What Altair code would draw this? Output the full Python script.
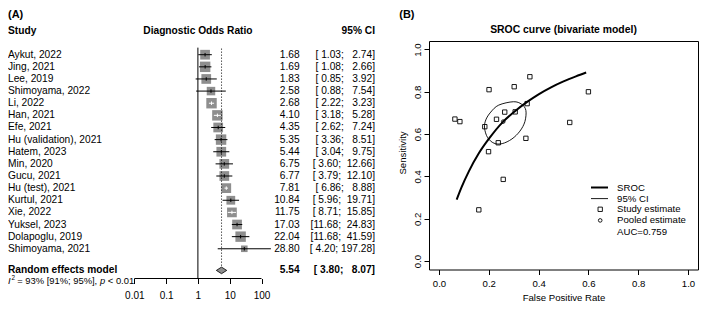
import altair as alt
import numpy as np
import pandas as pd

FONT = "Liberation Sans"
GRAY = "#8e8e8e"

# ---------------- (A) forest plot data ----------------
studies = ["Aykut, 2022", "Jing, 2021", "Lee, 2019", "Shimoyama, 2022", "Li, 2022",
           "Han, 2021", "Efe, 2021", "Hu (validation), 2021", "Hatem, 2023", "Min, 2020",
           "Gucu, 2021", "Hu (test), 2021", "Kurtul, 2021", "Xie, 2022", "Yuksel, 2023",
           "Dolapoglu, 2019", "Shimoyama, 2021"]
dor = [1.68, 1.69, 1.83, 2.58, 2.68, 4.10, 4.35, 5.35, 5.44, 6.75, 6.77, 7.81,
       10.84, 11.75, 17.03, 22.04, 28.80]
dor_lower = [1.03, 1.08, 0.85, 0.88, 2.22, 3.18, 2.62, 3.36, 3.04, 3.60, 3.79, 6.86,
             5.96, 8.71, 11.68, 11.68, 4.20]
dor_upper = [2.74, 2.66, 3.92, 7.54, 3.23, 5.28, 7.24, 8.51, 9.75, 12.66, 12.10, 8.88,
             19.71, 15.85, 24.83, 41.59, 197.28]
weights = [5.9, 6.8, 5.9, 4.5, 6.8, 6.8, 5.9, 6.8, 5.9, 5.9, 5.9, 5.9, 4.8, 5.9, 5.9, 6.8, 2.7]
pooled_label = "Random effects model"
pooled_dor, pooled_lower, pooled_upper = 5.54, 3.80, 8.07
het_i2, het_lo, het_hi, het_p = "93%", "91%", "95%", "0.01"
forest_ticks = [0.01, 0.1, 1, 10, 100]
forest_tick_labels = ["0.01", "0.1", "1", "10", "100"]
forest_headers = ["Study", "Diagnostic Odds Ratio", "95% CI"]
null_effect = 1.0
panel_tags = ["(A)", "(B)"]

# ---------------- (B) SROC data ----------------
study_fpr = [0.365, 0.302, 0.201, 0.354, 0.264, 0.306, 0.231, 0.184, 0.525, 0.349,
             0.238, 0.199, 0.600, 0.258, 0.160, 0.064, 0.084]
study_sens = [0.871, 0.824, 0.810, 0.744, 0.704, 0.705, 0.670, 0.635, 0.655, 0.580,
              0.559, 0.517, 0.800, 0.386, 0.242, 0.671, 0.659]
pooled_fpr, pooled_sens = 0.258, 0.659
sroc_fpr = [0.071, 0.09, 0.12, 0.16, 0.20, 0.258, 0.30, 0.354, 0.40, 0.45, 0.50, 0.55, 0.591]
sroc_sens = [0.290, 0.347, 0.424, 0.509, 0.577, 0.659, 0.703, 0.752, 0.788, 0.821, 0.849, 0.873, 0.891]
ell_fpr = [0.299, 0.332, 0.349, 0.345, 0.325, 0.293, 0.254, 0.221, 0.195, 0.183, 0.188, 0.208, 0.240]
ell_sens = [0.753, 0.741, 0.712, 0.659, 0.614, 0.577, 0.555, 0.557, 0.584, 0.629, 0.667, 0.704, 0.737]
auc = 0.759
sroc_ticks = [0.0, 0.2, 0.4, 0.6, 0.8, 1.0]
sroc_title = "SROC curve (bivariate model)"
legend_labels = ["SROC", "95% CI", "Study estimate", "Pooled estimate", f"AUC={auc}"]
x_title_b = "False Positive Rate"
y_title_b = "Sensitivity"

NB = "\u00a0"


def label(text, x, y, size=10.2, weight="normal", align="left", style="normal", angle=0):
    return alt.Chart(pd.DataFrame({"t": [text]})).mark_text(
        align=align, baseline="middle", font=FONT, fontSize=size, fontWeight=weight,
        fontStyle=style, color="black", angle=angle
    ).encode(x=alt.value(x), y=alt.value(y), text="t:N")


# ---------------- shared layout ----------------
H = 228.5                     # plot height of both panels (SROC box height)
Y_TAG = -25.6

# ---------------- panel A layout ----------------
WA = 415
PX_LO, PX_HI = 126.3, 253.5          # pixel x of 0.01 and 100
DEC = (PX_HI - PX_LO) / 4.0
xsA = alt.Scale(type="log", nice=False,
                domain=[10 ** (-2 - PX_LO / DEC), 10 ** (2 + (WA - PX_HI) / DEC)])
ROW0, ROWH = 13.7, 12.13
Y_HEAD, Y_POOL, Y_HET = -10.2, 229.4, 240.2
AXIS_OFF = 9
AXIS_Y = H + AXIS_OFF
EST_X, CI_X = 291.7, 367
FS = 10.2
SIZE_PER_W = 16.0
DIA_H = 3.3

n = len(studies)
fmt = lambda v: f"{v:.2f}"
lw = max(len(fmt(v)) for v in dor_lower + [pooled_lower])
uw = max(len(fmt(v)) for v in dor_upper + [pooled_upper])
ci_text = lambda lo, hi: "[" + fmt(lo).rjust(lw, NB) + ";" + NB + fmt(hi).rjust(uw, NB) + "]"

sq_px = np.sqrt(np.array(weights) * SIZE_PER_W)
ci_px = np.log10(np.array(dor_upper) / np.array(dor_lower)) * DEC
fd = pd.DataFrame({
    "study": studies, "dor": dor, "lo": dor_lower, "hi": dor_upper, "weight": weights,
    "ypos": [ROW0 + ROWH * i for i in range(n)],
    "est": [fmt(v) for v in dor],
    "ci": [ci_text(l, h) for l, h in zip(dor_lower, dor_upper)],
    "lc": np.where(ci_px < sq_px, "white", "black"),
})

lab_expr = " : ".join(f"datum.value == {v} ? '{t}'" for v, t in zip(forest_ticks, forest_tick_labels)) + " : ''"
xA_axis = alt.Axis(values=forest_ticks, labelExpr=lab_expr, grid=False, domain=False,
                   tickSize=5, tickColor="black", offset=AXIS_OFF, labelPadding=7.4,
                   labelFontSize=10, labelColor="black", labelFont=FONT, labelFlush=False,
                   labelOverlap=False, title=None)


def XA(field):
    return alt.X(field, scale=xsA, axis=xA_axis)


yA = alt.Y("ypos:Q", scale=None, axis=None)
baseA = alt.Chart(fd)

squares = baseA.mark_square(color=GRAY, opacity=1).encode(
    x=XA("dor:Q"), y=yA,
    size=alt.Size("weight:Q", scale=alt.Scale(domain=[0, 10], range=[0, 10 * SIZE_PER_W]), legend=None))
ci_lines = baseA.mark_rule(strokeWidth=1).encode(
    x=XA("lo:Q"), x2="hi:Q", y=yA, color=alt.Color("lc:N", scale=None))
centers = baseA.mark_point(shape="M0,-1L0,1", size=12, filled=False, strokeWidth=1, opacity=1).encode(
    x=XA("dor:Q"), y=yA, color=alt.Color("lc:N", scale=None))
names = baseA.mark_text(align="left", baseline="middle", font=FONT, fontSize=FS, color="black").encode(
    x=alt.value(0), y=yA, text="study:N")
ests = baseA.mark_text(align="right", baseline="middle", font=FONT, fontSize=FS, color="black").encode(
    x=alt.value(EST_X), y=yA, text="est:N")
cis = baseA.mark_text(align="right", baseline="middle", font=FONT, fontSize=FS, color="black").encode(
    x=alt.value(CI_X), y=yA, text="ci:N")

vline = alt.Chart(pd.DataFrame({"v": [null_effect]})).mark_rule(color="black", strokeWidth=1).encode(
    x=XA("v:Q"), y=alt.value(ROW0 - ROWH / 2 - 1), y2=alt.value(AXIS_Y))
dline = alt.Chart(pd.DataFrame({"v": [pooled_dor]})).mark_rule(
    color="black", strokeWidth=1, strokeDash=[1, 2]).encode(
    x=XA("v:Q"), y=alt.value(ROW0 - ROWH / 2), y2=alt.value(Y_POOL - DIA_H))
aline = alt.Chart(pd.DataFrame({"a": [min(forest_ticks)], "b": [max(forest_ticks)]})).mark_rule(
    color="black", strokeWidth=1).encode(
    x=XA("a:Q"), x2="b:Q", y=alt.value(AXIS_Y))

dd = pd.DataFrame({"x": [pooled_lower, pooled_dor, pooled_upper],
                   "yt": [Y_POOL, Y_POOL - DIA_H, Y_POOL],
                   "yb": [Y_POOL, Y_POOL + DIA_H, Y_POOL]})
diamond = alt.Chart(dd).mark_area(fill=GRAY, stroke="black", strokeWidth=0.8, opacity=1,
                                  orient="vertical").encode(
    x=XA("x:Q"), y=alt.Y("yt:Q", scale=None, axis=None), y2="yb:Q")

x_one = PX_LO + 2 * DEC
HS = 9.4
layersA = [
    squares, vline, dline, aline, ci_lines, centers, diamond, names, ests, cis,
    label(panel_tags[0], 0, Y_TAG, size=11, weight="bold"),
    label(forest_headers[0], 0, Y_HEAD, weight="bold"),
    label(forest_headers[1], x_one, Y_HEAD, weight="bold", align="center"),
    label(forest_headers[2], CI_X, Y_HEAD, weight="bold", align="right"),
    label(pooled_label, 0, Y_POOL, weight="bold"),
    label(fmt(pooled_dor), EST_X, Y_POOL, weight="bold", align="right"),
    label(ci_text(pooled_lower, pooled_upper), CI_X, Y_POOL, weight="bold", align="right"),
    label("I", 0, Y_HET, size=HS, style="italic"),
    label("2", 3.4, Y_HET - 3.0, size=6.3),
    label(f"= {het_i2} [{het_lo}; {het_hi}],", 9.2, Y_HET, size=HS),
    label("p", 92.0, Y_HET, size=HS, style="italic"),
    label(f"< {het_p}", 99.8, Y_HET, size=HS),
]
panelA = alt.layer(*layersA).properties(width=WA, height=H)

# ---------------- panel B ----------------
WB = 269
XDOM = [-0.04, 1.04]
YDOM = [-0.04, 1.04]
xsB = alt.Scale(domain=XDOM, nice=False, zero=False)
ysB = alt.Scale(domain=YDOM, nice=False, zero=False)
FSB = 9.6

xB_axis = alt.Axis(values=sroc_ticks, format=".1f", grid=False, domain=False, tickSize=5,
                   tickColor="black", labelPadding=3.5, labelFontSize=FSB, labelFlush=False,
                   labelOverlap=False, title=x_title_b, titleFontSize=FSB,
                   titleFontWeight="normal", titlePadding=4.4)
yB_axis = alt.Axis(values=sroc_ticks, format=".1f", grid=False, domain=False, tickSize=5,
                   tickColor="black", labelAngle=270, labelAlign="center", labelBaseline="bottom",
                   labelPadding=1.5, labelFontSize=FSB, labelFlush=False, labelOverlap=False,
                   title=None)


def XB(field):
    return alt.X(field, scale=xsB, axis=xB_axis)


def YB(field):
    return alt.Y(field, scale=ysB, axis=yB_axis)


pts = alt.Chart(pd.DataFrame({"fpr": study_fpr, "sens": study_sens})).mark_point(
    shape="square", size=19, filled=False, color="black", strokeWidth=0.9, opacity=1).encode(
    x=XB("fpr:Q"), y=YB("sens:Q"))
curve = alt.Chart(pd.DataFrame({"fpr": sroc_fpr, "sens": sroc_sens, "i": list(range(len(sroc_fpr)))})).mark_line(
    color="black", strokeWidth=2, interpolate="monotone").encode(
    x=XB("fpr:Q"), y=YB("sens:Q"), order="i:Q")
ell = alt.Chart(pd.DataFrame({"fpr": ell_fpr, "sens": ell_sens, "i": list(range(len(ell_fpr)))})).mark_line(
    color="black", strokeWidth=0.9, interpolate="cardinal-closed").encode(
    x=XB("fpr:Q"), y=YB("sens:Q"), order="i:Q")
pool = alt.Chart(pd.DataFrame({"fpr": [pooled_fpr], "sens": [pooled_sens]})).mark_point(
    shape="circle", size=13, filled=False, color="black", strokeWidth=0.9, opacity=1).encode(
    x=XB("fpr:Q"), y=YB("sens:Q"))

one = pd.DataFrame({"k": [0]})
LX0, LX1, LSYM, LTXT = 162.0, 179.0, 171.2, 188.1
LY = [146.5, 157.6, 168.3, 179.4, 190.7]
leg = [
    alt.Chart(one).mark_rule(color="black", strokeWidth=2).encode(
        x=alt.value(LX0), x2=alt.value(LX1), y=alt.value(LY[0])),
    alt.Chart(one).mark_rule(color="black", strokeWidth=0.9).encode(
        x=alt.value(LX0), x2=alt.value(LX1), y=alt.value(LY[1])),
    alt.Chart(one).mark_point(shape="square", size=19, filled=False, color="black",
                              strokeWidth=0.9, opacity=1).encode(x=alt.value(LSYM), y=alt.value(LY[2])),
    alt.Chart(one).mark_point(shape="circle", size=13, filled=False, color="black",
                              strokeWidth=0.9, opacity=1).encode(x=alt.value(LSYM), y=alt.value(LY[3])),
] + [label(t, LTXT, y, size=FSB) for t, y in zip(legend_labels, LY)]

layersB = [pts, ell, curve, pool] + leg + [
    label(sroc_title, WB / 2, -11.2, size=10.4, weight="bold", align="center"),
    label(panel_tags[1], -22.1, Y_TAG, size=11, weight="bold", align="center"),
    label(y_title_b, -25.6, 112, size=FSB, align="center", angle=270),
]
panelB = alt.layer(*layersB).properties(
    width=WB, height=H, view=alt.ViewBackground(stroke="black", strokeWidth=1))

chart = alt.hconcat(panelA, panelB, spacing=6, bounds="flush", padding=0).configure_view(
    strokeWidth=0).configure_axis(labelFont=FONT, titleFont=FONT, labelColor="black",
                                  titleColor="black")

chart.save("out.html", embed_options={"renderer": "svg", "actions": False})
